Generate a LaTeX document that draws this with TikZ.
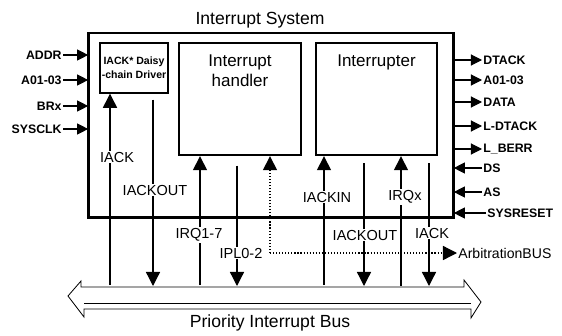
\documentclass[tikz,border=0pt]{standalone}
\usepackage{fontspec}
\setmainfont{Liberation Sans}
\usetikzlibrary{arrows.meta}

\begin{document}
\begin{tikzpicture}[x=0.03cm,y=-0.03cm,
  box/.style={draw,line width=2pt,inner sep=0pt},
  side/.style={font=\fontsize{10.5}{12}\selectfont\bfseries,inner sep=1pt},
  lbl/.style={font=\fontsize{12.4}{14}\selectfont,fill=white,inner sep=1pt},
  sig/.style={line width=1.1pt,-{Triangle[length=12pt,width=12pt]}},
  sin/.style={line width=0.9pt,-{Triangle[length=9.5pt,width=9.5pt]}},
  dots/.style={line width=1.1pt,dash pattern=on 1pt off 1.6pt}]
\useasboundingbox (0,0) rectangle (562,335);
\node[font=\fontsize{15}{18}\selectfont] (title) at (260,20) {Interrupt System};
\node[draw,line width=1.4pt,minimum width=10.92cm,minimum height=5.52cm] (sys) at (271,125) {};
\draw[line width=2.6pt] (sys.north west) -- (sys.south west) -- (sys.south east) -- (sys.north east);
\node[box,line width=1.2pt,minimum width=2.04cm,minimum height=1.5cm,align=center,
  font=\fontsize{9}{12}\selectfont\bfseries] (daisy) at (134,68) {IACK* Daisy\\-chain Driver};
\node[box,minimum width=3.66cm,minimum height=3.36cm] (handler) at (240,99) {};
\node[font=\fontsize{14.5}{17}\selectfont,align=center,below=9pt,inner sep=2pt] (hname) at (handler.north) {Interrupt\\handler};
\node[box,minimum width=3.63cm,minimum height=3.36cm] (irupt) at (376.5,99) {};
\node[font=\fontsize{14.5}{17}\selectfont,below=9pt,inner sep=2pt] (iname) at (irupt.north) {Interrupter};
% inputs on the left
\foreach \y/\t [count=\i] in {55/ADDR,80/A01-03,106/BRx,129/SYSCLK}{
  \node[side,anchor=east] (l\i) at (63,\y) {\t};
  \draw[sin] (l\i) -- (l\i -| sys.west);
}
% outputs and inputs on the right
\foreach \y/\t [count=\i] in {60/DTACK,80/A01-03,102/DATA,126/L-DTACK,149/L\_BERR}{
  \node[side,anchor=west] (r\i) at (482,\y) {\t};
  \draw[sin] (r\i -| sys.east) -- (r\i);
}
\foreach \y/\t/\x [count=\i] in {168/DS/482,192/AS/482,213/SYSRESET/486}{
  \node[side,anchor=west] (s\i) at (\x,\y) {\t};
  \draw[sin] (s\i) -- (s\i -| sys.east);
}
% bus
\draw[line width=0.7pt] (68,296) -- (81,281) -- (81,287) -- (464,287) -- (464,280) -- (481,302)
  -- (471,318) -- (471,309) -- (84,309) -- (84,317) -- cycle;
\draw[line width=0.7pt] (84,303) -- (471,303);
\node[font=\fontsize{15}{18}\selectfont] (busl) at (270,323) {Priority Interrupt Bus};
% lines to the bus
\coordinate (b1) at (110,285);
\coordinate (b2) at (153,286);
\coordinate (b3) at (200,285);
\coordinate (b4) at (237,286);
\coordinate (arb) at (270,253);
\coordinate (b6) at (324,285);
\coordinate (b7) at (364,286);
\coordinate (b8) at (401,286);
\coordinate (b9) at (429,286);
\draw[sig] (b1) -- (b1 |- daisy.south);
\draw[sig,shorten <=5pt] (b2 |- daisy.south) -- (b2);
\draw[sig] (b3) -- (b3 |- handler.south);
\draw[sig,shorten <=8pt] (b4 |- handler.south) -- (b4);
\node[font=\fontsize{12}{14}\selectfont,anchor=west,inner sep=1pt] (arbl) at (457,253) {ArbitrationBUS};
\draw[sig,dots] (arb) -- (arb |- handler.south);
\draw[sig,dots] (arb) -- (arbl);
\draw[sig] (b6) -- (b6 |- irupt.south);
\draw[sig,shorten <=6pt] (b7 |- irupt.south) -- (b7);
\draw[sig,{Triangle[length=12pt,width=12pt]}-] (b8 |- irupt.south) -- (b8);
\draw[sig,shorten <=6pt] (b9 |- irupt.south) -- (b9);
\node[lbl] (iack) at (117,157) {IACK};
\node[lbl] (iackout) at (155,190) {IACKOUT};
\node[lbl] (irq) at (199,235) {IRQ1-7};
\node[lbl] (ipl) at (241,253) {IPL0-2};
\node[lbl] (iackin) at (327,197) {IACKIN};
\node[lbl] (iackout2) at (365,235) {IACKOUT};
\node[lbl] (irqx) at (405,197) {IRQx};
\node[lbl] (iack2) at (432,233) {IACK};
\end{tikzpicture}
\end{document}
